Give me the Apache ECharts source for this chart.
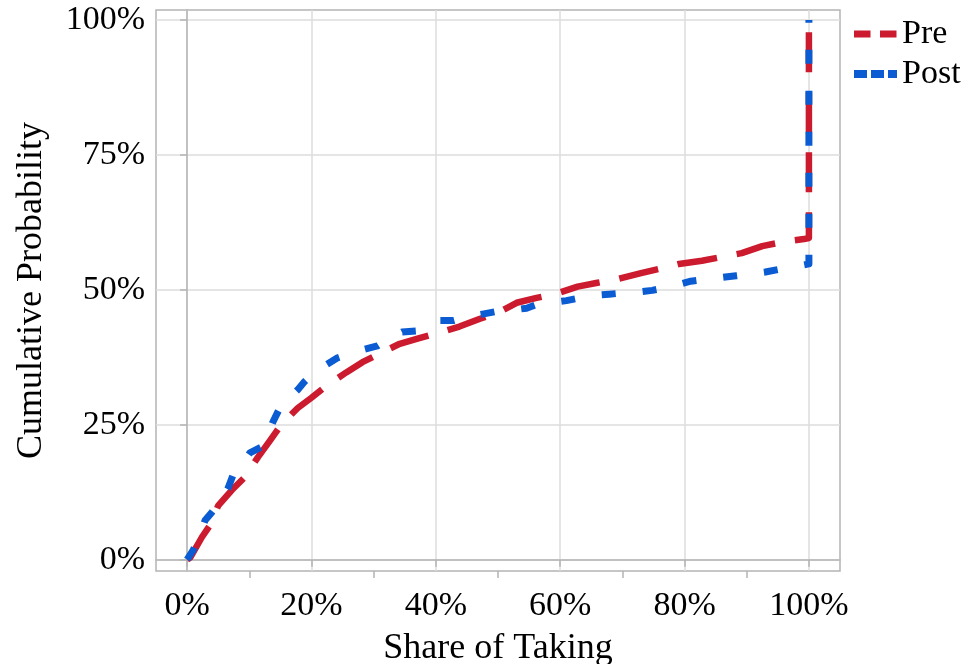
<!DOCTYPE html>
<html>
<head>
<meta charset="utf-8">
<script src="https://cdn.jsdelivr.net/npm/echarts@6/dist/echarts.min.js"></script>
<style>
html,body{margin:0;padding:0;background:#fff;}
#chart{width:966px;height:664px;}
</style>
</head>
<body>
<div id="chart"></div>
<script>
// Share of Taking (%), Cumulative Probability (%)
const preSeries = [
  [0,0],[0.5,0.4],[2.4,4.2],[3.7,6.4],[5,10],[7.2,12.9],[9.3,15.3],[11.4,19],[13.3,22],[14.9,24.6],
  [16.5,26.6],[17.8,28.1],[20,30],[22.5,32.3],[25.6,34.7],[28.2,36.6],[31,38.2],[34.2,40],[37.2,41],
  [40.3,42],[43.8,43.2],[47,44.6],[49.9,45.7],[53,47.6],[56.2,48.5],[59.4,49.3],[62.8,50.6],[66,51.3],
  [69.2,52],[73,53.1],[76,53.9],[79.1,54.8],[82.8,55.4],[86,56.1],[89.2,56.8],[92.5,58.1],[96,58.9],
  [99.2,59.4],[100,59.6],[100,100]
];
const postSeries = [
  [0,0],[1,1.8],[2,4.5],[2.9,7.3],[4,8.8],[5.5,11],[6.6,13.3],[7.4,15.7],[9,18],[10.1,19.8],[12,20.9],
  [13,23],[13.8,25.5],[14.9,28.1],[16.5,30],[17.8,31.5],[18.9,33],[20.5,34.7],[22.5,36.2],[24.2,37.4],
  [26.5,38.3],[28.6,39],[30.6,39.6],[32.5,41],[34.6,42.2],[36.9,42.4],[38.5,43.5],[40.3,44.3],[42.8,44.3],
  [45,45],[47.5,45.5],[49.8,46],[52,46.2],[54.6,46.6],[56.3,47.3],[59,47.7],[61,48],[63.1,48.5],
  [65.5,49],[67.9,49.2],[70,49.4],[72.5,49.6],[74.8,49.9],[77,50.4],[79,51],[81,51.6],[83.6,52],
  [86,52.3],[88.3,52.6],[90.4,52.9],[93,53.3],[95.2,53.8],[97.3,54.2],[100,54.8],[100,100]
];
const seriesNames = ['Pre','Post'];
const xTickLabels = [0,20,40,60,80,100];
const xMinorTicks = [10,30,50,70,90];
const yTickLabels = [0,25,50,75,100];

const FONT = '"Liberation Serif","Times New Roman",serif';
const RED = '#cc1a2e';
const BLUE = '#0b5cd3';
const GRAY = '#b4b4b4';

const chart = echarts.init(document.getElementById('chart'), null, {renderer:'canvas'});
chart.setOption({
  animation:false,
  backgroundColor:'#fff',
  textStyle:{fontFamily:FONT},
  grid:{left:156, right:126, top:10, bottom:93, show:true, borderColor:GRAY, borderWidth:1.5, backgroundColor:'#fff',
        containLabel:false, outerBoundsMode:'none'},
  legend:{
    orient:'vertical', left:850, top:17, padding:0, itemWidth:43, itemHeight:8, itemGap:6,
    textStyle:{fontFamily:FONT, fontSize:34, color:'#000'},
    data:[
      {name:seriesNames[0], itemStyle:{opacity:0}, lineStyle:{color:RED, width:7, type:[16.5,9.5], cap:'butt'}},
      {name:seriesNames[1], itemStyle:{opacity:0}, lineStyle:{color:BLUE, width:8, type:[13,4], cap:'butt'}}
    ]
  },
  xAxis:[{
    type:'value', min:-5, max:105, position:'bottom',
    name:'Share of Taking', nameLocation:'middle', nameGap:60,
    nameTextStyle:{fontFamily:FONT, fontSize:36, color:'#000'},
    axisLine:{show:true, lineStyle:{color:GRAY, width:1.5}},
    axisTick:{show:true, length:7, customValues:xTickLabels, lineStyle:{color:GRAY, width:1.5}},
    axisLabel:{customValues:xTickLabels, formatter:v=>v+'%', fontFamily:FONT, fontSize:34, color:'#000', margin:18},
    splitLine:{show:true, lineStyle:{color:'#dcdcdc', width:1.5}}
  },{
    type:'value', min:-5, max:105, position:'bottom',
    axisLine:{show:false},
    axisTick:{show:true, length:7, customValues:xMinorTicks, lineStyle:{color:GRAY, width:1.5}},
    axisLabel:{show:false},
    splitLine:{show:false}
  }],
  yAxis:{
    type:'value', min:-2.1, max:101.85,
    name:'Cumulative Probability', nameLocation:'middle', nameGap:106, nameRotate:90,
    nameTextStyle:{fontFamily:FONT, fontSize:36, color:'#000'},
    axisLine:{show:true, lineStyle:{color:GRAY, width:1.5}},
    axisTick:{show:true, length:7, customValues:yTickLabels, lineStyle:{color:GRAY, width:1.5}},
    axisLabel:{customValues:yTickLabels, formatter:v=>v+'%', fontFamily:FONT, fontSize:34, color:'#000', margin:11},
    splitLine:{show:true, lineStyle:{color:'#dcdcdc', width:1.5}}
  },
  series:[
    {name:seriesNames[0], type:'line', xAxisIndex:0, data:preSeries, showSymbol:false, symbol:'none',
     lineStyle:{color:RED, width:6.5, type:[40,20], cap:'butt', join:'round'}, itemStyle:{color:RED}, z:2},
    {name:seriesNames[1], type:'line', xAxisIndex:0, data:postSeries, showSymbol:false, symbol:'none',
     lineStyle:{color:BLUE, width:7, type:[14,27], cap:'butt', join:'round'}, itemStyle:{color:BLUE}, z:3}
  ]
});
</script>
</body>
</html>
